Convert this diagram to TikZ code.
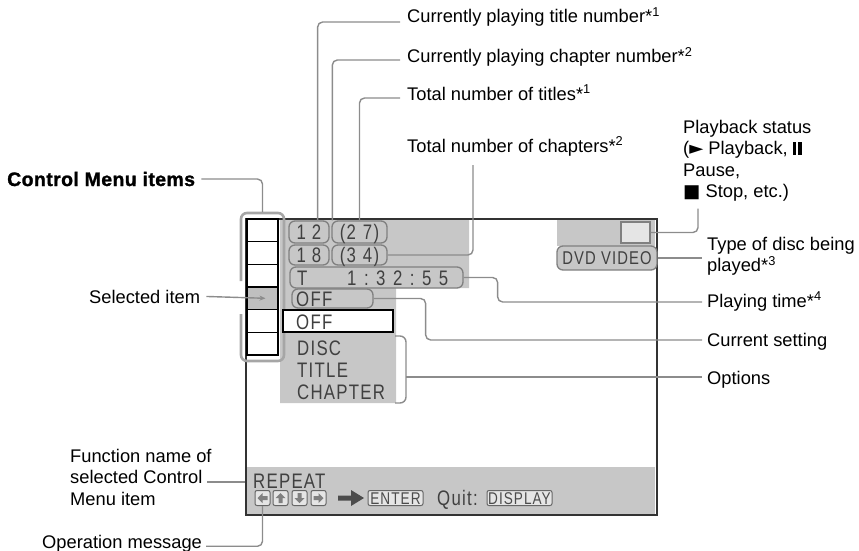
\documentclass[tikz,border=0pt]{standalone}
\usepackage{fontspec}
\setmainfont{Liberation Sans}
\newfontfamily\scrfont[FakeStretch=0.8,LetterSpace=6]{Liberation Sans}
\newfontfamily\heavyfont[FakeBold=1.3,LetterSpace=2]{Liberation Sans Bold}
\newfontfamily\dejavu{DejaVu Sans}
\usetikzlibrary{arrows.meta}
\newcommand\tgap{\hspace{7.5pt}}
\newcommand\pausebars{\rule{3.5pt}{12.5pt}\hspace{2pt}\rule{3.5pt}{12.5pt}}
\begin{document}
\begin{tikzpicture}[x=1pt,y=-1pt,
  lbl/.style={anchor=base west, inner sep=0pt, font=\fontsize{18.3}{21.5}\selectfont, text=black},
  lblm/.style={anchor=north west, inner sep=0pt, align=left, font=\fontsize{18.3}{21.5}\selectfont, text=black},
  lead/.style={draw=black!45, line width=1.4pt, rounded corners=5pt},
  bgz/.style={fill=black!22},
  rbox/.style={draw=black!50, fill=black!22, line width=1.3pt, rounded corners=6pt, inner sep=0pt,
    font=\scrfont\fontsize{21}{22}\selectfont, text=black!75, text height=15pt, text depth=0pt},
  stxt/.style={anchor=west, inner sep=0pt, font=\scrfont\fontsize{21}{22}\selectfont, text=black!75,
    text height=15pt, text depth=0pt},
  kbox/.style={draw=black!60, fill=black!10, line width=1pt, rounded corners=2pt, inner sep=0pt, minimum height=15pt},
  ktxt/.style={font=\scrfont\fontsize{17}{18}\selectfont, text=black!70, text height=12pt, text depth=0pt},
  karrow/.style={fill=black!50},
]
\useasboundingbox (0,0) rectangle (859,551);

% gray screen areas
\fill[bgz] (280,219) -- (469,219) -- (469,288) -- (396,288) -- (396,403) -- (280,403) -- cycle;
\fill[bgz] (557,219) rectangle (655,246);
\fill[bgz] (247,467) rectangle (655,514);

% screen frame
\node[draw=black!80, line width=2.6pt, minimum width=411pt, minimum height=296pt, inner sep=0pt] (scr) at (451.5,367) {};

% control menu column
\node[fill=black!25, minimum width=30pt, minimum height=22pt, inner sep=0pt] (sel) at (262.5,298.3) {};
\node[draw=black, line width=1.6pt, minimum width=31pt, minimum height=136pt, inner sep=0pt] (cmcol) at (262.5,287) {};
\foreach \yy in {241.7,264.3,287,309.7,332.3}
  \draw[line width=1.3pt] (247,\yy) -- (278,\yy);
\draw[draw=black!35, line width=2.6pt, rounded corners=6pt] (241,281) |- (284,213) |- (241,361) -- (241,314);

% number boxes
\node[rbox, minimum width=40pt, minimum height=22pt] (b12) at (309,232) {1 2};
\node[rbox, minimum width=55pt, minimum height=22pt] (b27) at (359.5,232) {(2\,\,7)};
\node[rbox, minimum width=40pt, minimum height=20pt] (b18) at (309,255) {1 8};
\node[rbox, minimum width=55pt, minimum height=20pt] (b34) at (359.5,255) {(3\,\,4)};
\node[rbox, minimum width=173pt, minimum height=21pt] (tbx) at (376.5,277.5) {};
\node[stxt] (tT) at (297,278) {T};
\node[stxt] (ttime) at (347,278) {1\tgap:\tgap3\tgap2\tgap:\tgap5\tgap5};

% setting and options
\node[rbox, minimum width=81pt, minimum height=19pt] (off1) at (332.5,298.5) {};
\node[stxt] (toff1) at (296,299) {OFF};
\node[draw=black, line width=1.5pt, fill=white, minimum width=110pt, minimum height=22pt, inner sep=0pt] (off2) at (338,321) {};
\node[stxt] (toff2) at (296,321.5) {OFF};
\node[stxt] (tdisc) at (297,348) {DISC};
\node[stxt] (ttitle) at (297,370) {TITLE};
\node[stxt] (tchap) at (297,392) {CHAPTER};
\draw[lead, rounded corners=6pt] (395,336) -- (406,336) -- (406,403) -- (395,403);
\coordinate (brk) at (406,377);

% top right
\node[draw=black!50, fill=black!10, line width=1.2pt, minimum width=29pt, minimum height=21pt, inner sep=0pt] (pbx) at (635.5,232.5) {};
\node[rbox, minimum width=100pt, minimum height=24pt, font=\scrfont\fontsize{18.5}{20}\selectfont, text height=13.2pt] (dvd) at (607,258) {DVD VIDEO};

% bottom band
\node[stxt] (rep) at (253,481) {REPEAT};
\node[kbox, minimum width=15pt] (ic1) at (262.5,498) {};
\node[kbox, minimum width=15pt] (ic2) at (280.5,498) {};
\node[kbox, minimum width=15pt] (ic3) at (299.5,498) {};
\node[kbox, minimum width=15pt] (ic4) at (318.5,498) {};
\foreach \n/\r in {ic1/0, ic2/-90, ic3/90, ic4/180}
  \fill[karrow, shift={(\n.center)}, rotate=\r] (-5,0) -- (0,-5) -- (0,-2) -- (5,-2) -- (5,2) -- (0,2) -- (0,5) -- cycle;
\fill[black!70] (338,495.5) -- (351,495.5) -- (351,490) -- (364,498) -- (351,506) -- (351,500.5) -- (338,500.5) -- cycle;
\node[kbox, minimum width=55pt, ktxt] (ent) at (395.5,498) {ENTER};
\node[stxt] (quit) at (437,498) {Quit:};
\node[kbox, minimum width=65pt, ktxt] (disp) at (519.5,498) {DISPLAY};

% labels
\node[lbl] (lt1) at (407,23) {Currently playing title number*\textsuperscript{1}};
\node[lbl] (lt2) at (407,63) {Currently playing chapter number*\textsuperscript{2}};
\node[lbl] (lt3) at (407,100) {Total number of titles*\textsuperscript{1}};
\node[lbl] (lt4) at (407,152) {Total number of chapters*\textsuperscript{2}};
\node[lblm] (lps) at (683,119.6) {Playback status\\({\dejavu ►} Playback, \pausebars\\Pause,\\{\dejavu ■} Stop, etc.)};
\node[lblm] (ltd) at (707,236.6) {Type of disc being\\played*\textsuperscript{3}};
\node[lbl] (lpt) at (707,307) {Playing time*\textsuperscript{4}};
\node[lbl] (lcs) at (707,346) {Current setting};
\node[lbl] (lop) at (707,384) {Options};
\node[lbl, font=\heavyfont\fontsize{19.5}{22}\selectfont] (lcm) at (7,186) {Control Menu items};
\node[lbl] (lsi) at (89,303) {Selected item};
\node[lblm] (lfn) at (70,448.6) {Function name of\\selected Control\\Menu item};
\node[lbl] (lom) at (42,548) {Operation message};

% free ends
\coordinate (e6) at (702,258);
\coordinate (e7) at (702,302);
\coordinate (e8) at (702,340);
\coordinate (e9) at (702,377);
\coordinate (e11) at (207,482);

% leaders
\draw[lead] ([xshift=-7pt,yshift=1pt]lt1.base west) -| ([xshift=-12pt]b12.north east);
\draw[lead] ([xshift=-7pt,yshift=3pt]lt2.base west) -| ([xshift=1pt]b27.north west);
\draw[lead] ([xshift=-7pt,yshift=2pt]lt3.base west) -| (b27.north);
\draw[lead] (b34.east) -| ([xshift=66pt,yshift=-13pt]lt4.base west);
\draw[lead] (pbx.east) -| ([xshift=15pt,yshift=-7pt]lps.south west);
\draw[lead] (dvd.east) -- (e6);
\draw[lead] (tbx.east) -- ++(34,0) |- (e7);
\draw[lead] (off1.east) -- ++(52,0) |- (e8);
\draw[lead] (brk) -- (e9);
\draw[lead, -{Stealth[length=6pt,width=5pt]}] ([xshift=6pt]lsi.east) -- ([xshift=3pt]sel.center);
\draw[lead] ([xshift=6pt]lcm.east) -| ([yshift=6pt]cmcol.north);
\draw[lead] (e11) -- (e11 -| scr.west);
\draw[lead] ([xshift=4pt,yshift=-3pt]lom.east) -| (ic1.south);
\end{tikzpicture}
\end{document}
